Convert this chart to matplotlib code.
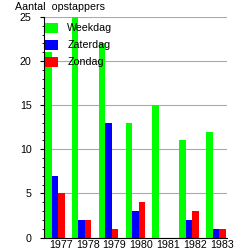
import matplotlib.pyplot as plt
import numpy as np

plt.rcParams['font.family'] = ['Liberation Sans', 'DejaVu Sans']

jaren = ['1977', '1978', '1979', '1980', '1981', '1982', '1983']
weekdag = [21, 25, 22, 13, 15, 11, 12]
zaterdag = [7, 2, 13, 3, 0, 2, 1]
zondag = [5, 2, 1, 4, 0, 3, 1]

fig = plt.figure(figsize=(2.46, 2.5), dpi=100)
ax = fig.add_axes([0.1789, 0.05, 0.744, 0.882])

x = np.arange(len(jaren))
w = 0.243
ax.bar(x + 0.037, weekdag, w, align='edge', color='#00ff00', label='Weekdag', zorder=2)
ax.bar(x + 0.037 + w, zaterdag, w, align='edge', color='#0000ff', label='Zaterdag', zorder=2)
ax.bar(x + 0.037 + 2 * w, zondag, w, align='edge', color='#ff0000', label='Zondag', zorder=2)

ax.set_xlim(0, 6.82)
ax.set_ylim(0, 25)
ax.set_xticks(x + 0.63)
ax.set_xticklabels(jaren, fontsize=7.7)
ax.tick_params(axis='x', length=0, pad=1.5)
ax.set_yticks([0, 5, 10, 15, 20, 25])
ax.set_yticks(np.arange(0, 26, 1), minor=True)
ax.tick_params(axis='y', which='major', length=3, labelsize=7.7, pad=6)
ax.tick_params(axis='y', which='minor', length=1.5)
ax.grid(axis='y', color='#aaaaaa', linewidth=0.8, zorder=0)
for s in ['top', 'right']:
    ax.spines[s].set_visible(False)

ax.text(-0.16, 1.045, 'Aantal  opstappers', transform=ax.transAxes, fontsize=7.7,
        ha='left', va='center')

ax.legend(loc='upper left', bbox_to_anchor=(0.005, 0.975), frameon=False, fontsize=7.7,
          borderaxespad=0, borderpad=0,
          handlelength=1.26, handleheight=1.12, handletextpad=0.84, labelspacing=0.58)

fig.savefig('out.png', dpi=100)
